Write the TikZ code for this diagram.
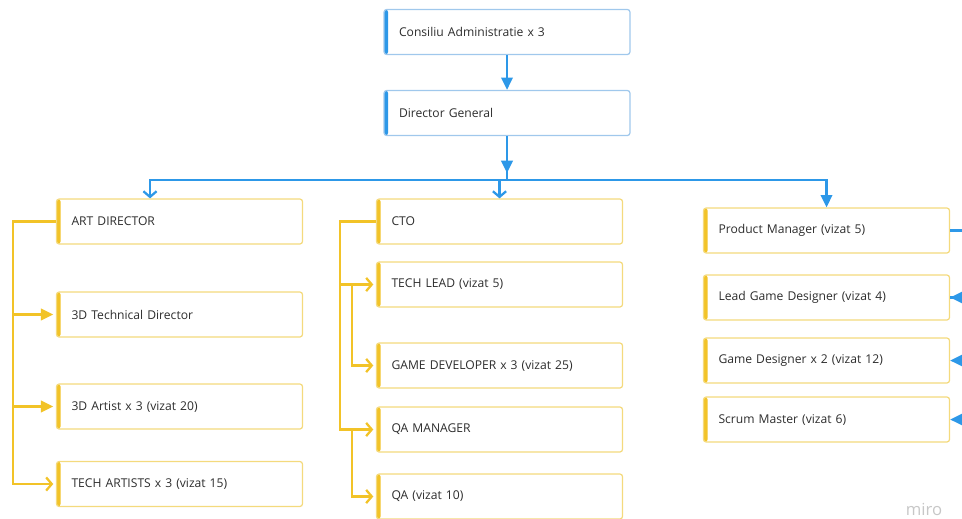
\documentclass[tikz,border=0pt]{standalone}
\usepackage{fontspec}
\setmainfont{Open Sans}
\usetikzlibrary{arrows.meta}

\definecolor{miroblue}{RGB}{45,152,232}
\definecolor{blueline}{RGB}{160,200,236}
\definecolor{miroyellow}{RGB}{242,195,40}
\definecolor{yelline}{RGB}{244,218,125}
\definecolor{textgray}{RGB}{45,45,45}

\tikzset{
    role/.style={
        rectangle,
        rounded corners=1.5pt,
        fill=white,
        line width=0.7pt,
        minimum width=4.92cm,
        minimum height=0.9cm,
        text width=4.32cm,
        inner xsep=0.3cm,
        inner ysep=0pt,
        align=left,
        text=textgray,
        font=\fontsize{6.9}{8}\selectfont
    },
    board/.style={
        role, draw=blueline,
        path picture={\fill[miroblue] (path picture bounding box.south west)
            rectangle ([xshift=2.3pt]path picture bounding box.north west);}
    },
    dept/.style={
        role, draw=yelline,
        path picture={\fill[miroyellow] (path picture bounding box.south west)
            rectangle ([xshift=2.3pt]path picture bounding box.north west);}
    },
    bluewire/.style={draw=miroblue, line width=1.3pt},
    yelwire/.style={draw=miroyellow, line width=1.3pt, shorten >=1.5pt},
    solid tip/.style={-{Triangle[length=7pt,width=6.5pt]}},
    open tip/.style={-{Straight Barb[length=3.2pt,width=7.5pt]}}
}

\begin{document}
\begin{tikzpicture}[x=0.02cm, y=-0.02cm]

    \useasboundingbox (0,0) rectangle (962,518);
    \clip (0,0) rectangle (962,518);

    % Top of the chart
    \node[board] (cons) at (507,32) {Consiliu Administratie x 3};
    \node[board] (dg) at (507,113) {Director General};

    % Art branch
    \node[dept] (art) at (179.5,221.5) {ART DIRECTOR};
    \node[dept] (tech3d) at (179.5,314.5) {3D Technical Director};
    \node[dept] (artist) at (179.5,406.5) {3D Artist x 3 (vizat 20)};
    \node[dept] (techart) at (179.5,484) {TECH ARTISTS x 3 (vizat 15)};

    % Tech branch
    \node[dept] (cto) at (499.5,221.5) {CTO};
    \node[dept] (tl) at (499.5,284.5) {TECH LEAD (vizat 5)};
    \node[dept] (gdev) at (499.5,365.5) {GAME DEVELOPER x 3 (vizat 25)};
    \node[dept] (qam) at (499.5,429.5) {QA MANAGER};
    \node[dept] (qa) at (499.5,496.5) {QA (vizat 10)};

    % Product branch
    \node[dept] (pm) at (826.5,230.5) {Product Manager (vizat 5)};
    \node[dept] (lgd) at (826.5,297.5) {Lead Game Designer (vizat 4)};
    \node[dept] (gdes) at (826.5,360.5) {Game Designer x 2 (vizat 12)};
    \node[dept] (sm) at (826.5,419.5) {Scrum Master (vizat 6)};

    \node[text=black!22, font=\fontsize{9.5}{10}\selectfont] (mark) at (924,509) {miro};

    % Blue edges
    \coordinate (bus) at (507,180);
    \draw[bluewire, solid tip] (cons) -- (dg);
    \draw[bluewire] (dg.south) -- (bus);
    \draw[bluewire, solid tip] (dg.south) -- (507,173);
    \draw[bluewire, open tip] (bus) -| ([xshift=-0.59cm]art.north);
    \draw[bluewire, open tip] (bus) -| (cto.north);
    \draw[bluewire, solid tip] (bus) -| (pm.north);
    \draw[bluewire] (pm.east) -- ++(30,0) |- (lgd.east);
    \draw[bluewire, solid tip] (pm.east) ++(30,0) |- (lgd.east);
    \draw[bluewire, solid tip] (pm.east) ++(30,0) |- (gdes.east);
    \draw[bluewire, solid tip] (pm.east) ++(30,0) |- (sm.east);

    % Yellow edges
    \draw[yelwire, solid tip] (art.west) -- ++(-43,0) |- (tech3d.west);
    \draw[yelwire, solid tip] (art.west) -- ++(-43,0) |- (artist.west);
    \draw[yelwire, open tip] (art.west) -- ++(-43,0) |- (techart.west);
    \draw[yelwire, open tip] (cto.west) -- ++(-36,0) |- (tl.west);
    \draw[yelwire, open tip] (cto.west) -- ++(-36,0) |- (qam.west);
    \draw[yelwire, open tip] (tl.west) ++(-24,0) |- (gdev.west);
    \draw[yelwire, open tip] (qam.west) ++(-24,0) |- (qa.west);
\end{tikzpicture}
\end{document}
